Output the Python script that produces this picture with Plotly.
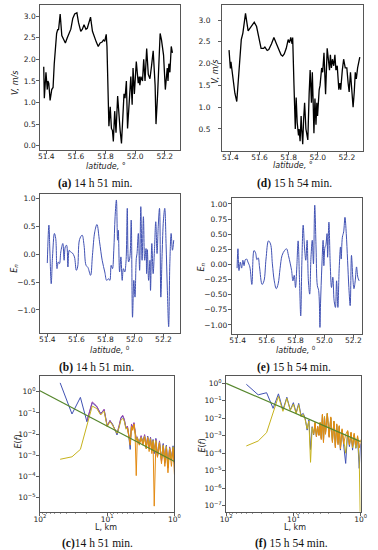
import plotly.graph_objects as go

# ---------------- data ----------------
lat_a = [51.383, 51.387, 51.398, 51.407, 51.411, 51.417, 51.426, 51.437, 51.446, 51.454,
         51.470, 51.478, 51.483, 51.494, 51.505, 51.520, 51.529, 51.542, 51.555, 51.566,
         51.579, 51.592, 51.607, 51.618, 51.633, 51.644, 51.655, 51.668, 51.677, 51.690,
         51.699, 51.712, 51.725, 51.738, 51.751, 51.764, 51.777, 51.786, 51.795, 51.801,
         51.805, 51.810, 51.816, 51.823, 51.832, 51.840, 51.847, 51.853, 51.862, 51.871,
         51.882, 51.893, 51.899, 51.908, 51.914, 51.925, 51.932, 51.941, 51.949, 51.958,
         51.967, 51.971, 51.980, 51.986, 51.995, 52.008, 52.021, 52.028, 52.032, 52.039,
         52.050, 52.058, 52.067, 52.078, 52.089, 52.100, 52.111, 52.122, 52.135, 52.141,
         52.152, 52.169, 52.178, 52.192, 52.204, 52.217, 52.222, 52.228, 52.235, 52.244,
         52.252]
v_a = [1.83, 1.10, 1.70, 1.30, 1.50, 1.45, 1.05, 1.30, 1.35, 1.90,
       2.60, 2.70, 2.68, 3.05, 2.55, 2.45, 2.38, 2.50, 2.60, 2.70,
       2.95, 3.05, 3.08, 2.85, 2.65, 2.70, 2.80, 2.70, 2.72, 2.90,
       2.98, 2.65, 2.50, 2.40, 2.30, 2.38, 2.40, 2.45, 2.42, 2.50,
       2.58, 2.30, 1.40, 0.45, 0.90, 0.40, 0.35, 0.10, 0.80, 0.30,
       1.15, 0.50, 0.35, 0.05, 0.50, 1.20, 1.10, 1.50, 0.40, 1.00,
       1.30, 1.60, 0.95, 1.80, 1.20, 1.95, 1.45, 1.60, 1.40, 1.60,
       1.50, 2.00, 1.50, 2.25, 1.65, 1.55, 1.85, 2.20, 1.40, 0.50,
       1.20, 2.60, 2.45, 2.10, 1.30, 1.80, 1.50, 1.90, 1.70, 2.30,
       2.15]

lat_d = [51.391, 51.400, 51.404, 51.411, 51.420, 51.431, 51.444, 51.460, 51.475, 51.486,
         51.504, 51.522, 51.542, 51.564, 51.580, 51.593, 51.611, 51.628, 51.637, 51.653,
         51.664, 51.682, 51.699, 51.717, 51.735, 51.748, 51.759, 51.770, 51.784, 51.797,
         51.806, 51.815, 51.824, 51.828, 51.837, 51.841, 51.846, 51.852, 51.859, 51.868,
         51.872, 51.879, 51.886, 51.890, 51.897, 51.903, 51.910, 51.919, 51.926, 51.932,
         51.941, 51.948, 51.957, 51.963, 51.968, 51.974, 51.981, 51.988, 51.994, 51.999,
         52.010, 52.016, 52.027, 52.034, 52.043, 52.054, 52.065, 52.072, 52.081, 52.087,
         52.094, 52.101, 52.110, 52.118, 52.125, 52.134, 52.145, 52.152, 52.158, 52.169,
         52.178, 52.189, 52.200, 52.209, 52.216, 52.225, 52.234, 52.243, 52.251, 52.258,
         52.265, 52.274, 52.289]
v_d = [2.31, 1.89, 2.04, 1.85, 1.51, 1.32, 1.13, 1.90, 2.55, 2.70,
       3.15, 2.75, 2.85, 2.95, 2.85, 2.65, 2.35, 2.35, 2.38, 2.30,
       2.32, 2.45, 2.60, 2.45, 2.30, 2.20, 2.17, 2.22, 2.35, 2.55,
       2.48, 2.60, 2.45, 2.60, 1.50, 0.70, 0.50, 1.22, 0.65, 0.35,
       0.50, 0.22, 0.80, 0.50, 0.15, 0.70, 1.10, 0.50, 0.30, 0.25,
       1.30, 1.85, 1.10, 1.80, 1.20, 0.40, 1.20, 0.60, 1.10, 0.80,
       1.40, 1.50, 1.90, 1.80, 2.25, 1.30, 2.35, 2.10, 1.85, 2.20,
       1.90, 2.10, 1.95, 2.20, 1.85, 1.95, 1.40, 1.55, 1.40, 1.85,
       2.10, 1.90, 1.90, 1.55, 1.35, 1.80, 1.30, 1.00, 1.35, 1.80,
       1.65, 1.90, 2.15]

lat_b = [51.400, 51.411, 51.418, 51.427, 51.436, 51.449, 51.458, 51.467, 51.476, 51.484,
         51.493, 51.507, 51.516, 51.524, 51.533, 51.542, 51.551, 51.560, 51.573, 51.587,
         51.600, 51.609, 51.622, 51.640, 51.653, 51.667, 51.680, 51.698, 51.711, 51.727,
         51.742, 51.760, 51.778, 51.796, 51.809, 51.822, 51.831, 51.840, 51.849, 51.858,
         51.867, 51.876, 51.884, 51.889, 51.898, 51.907, 51.916, 51.924, 51.933, 51.942,
         51.951, 51.960, 51.969, 51.978, 51.987, 51.996, 52.004, 52.013, 52.018, 52.027,
         52.036, 52.044, 52.053, 52.062, 52.071, 52.080, 52.084, 52.089, 52.098, 52.107,
         52.111, 52.120, 52.129, 52.138, 52.147, 52.156, 52.164, 52.173, 52.182, 52.191,
         52.200, 52.209, 52.218, 52.227, 52.236, 52.244, 52.253, 52.262, 52.271]
en_b = [-0.16, 0.52, 0.04, -0.53, -0.05, 0.37, 0.28, -0.26, -0.14, -0.17,
        0.04, 0.19, -0.11, 0.13, 0.16, -0.23, 0.07, 0.04, 0.02, -0.05,
        -0.29, -0.23, 0.26, 0.34, 0.16, -0.20, -0.24, -0.38, -0.02, 0.40,
        0.53, 0.22, -0.11, -0.32, -0.47, -0.44, -0.47, -0.20, -0.26, 0.07,
        0.67, 0.97, 0.25, 0.43, -0.32, -0.05, -0.47, -0.26, -0.32, -0.14,
        0.82, -0.14, -0.05, 0.61, -1.13, -0.47, -0.77, -0.08, 0.01, 0.37,
        -0.29, 0.85, -0.11, 0.67, -0.11, 0.10, -0.35, 0.08, -0.47, -0.11,
        -0.65, 0.19, -0.35, 0.07, 0.58, 0.01, 0.49, 0.82, -0.77, 0.01,
        0.61, 0.82, 0.19, -0.65, -1.30, -0.17, 0.37, 0.07, 0.25]

lat_e = [51.396, 51.402, 51.409, 51.418, 51.427, 51.436, 51.444, 51.453, 51.462, 51.471,
         51.484, 51.498, 51.513, 51.524, 51.533, 51.542, 51.551, 51.569, 51.582, 51.596,
         51.613, 51.627, 51.640, 51.653, 51.667, 51.680, 51.693, 51.707, 51.724, 51.738,
         51.751, 51.764, 51.773, 51.782, 51.791, 51.800, 51.809, 51.818, 51.827, 51.836,
         51.844, 51.853, 51.862, 51.871, 51.880, 51.889, 51.898, 51.907, 51.916, 51.924,
         51.933, 51.942, 51.951, 51.960, 51.969, 51.973, 51.982, 51.991, 51.996, 52.004,
         52.009, 52.018, 52.022, 52.031, 52.040, 52.049, 52.058, 52.067, 52.076, 52.084,
         52.093, 52.102, 52.111, 52.116, 52.124, 52.133, 52.142, 52.151, 52.160, 52.169,
         52.178, 52.187, 52.196, 52.204, 52.213, 52.222, 52.231, 52.240]
en_e = [-0.06, 0.26, -0.10, 0.04, -0.06, 0.07, -0.02, 0.08, 0.09, 0.04,
        -0.04, -0.33, 0.23, 0.19, 0.08, 0.11, -0.04, -0.33, -0.27, 0.09,
        0.39, 0.34, 0.01, -0.27, -0.40, -0.32, -0.07, 0.15, 0.23, 0.26,
        0.15, 0.01, -0.10, -0.27, -0.18, -0.38, -0.04, 0.39, -0.21, -0.85,
        0.04, 0.65, 0.29, 0.07, 0.40, -0.27, -0.49, 0.12, 0.40, 0.01,
        0.98, 0.29, -0.35, -0.43, -1.04, -0.65, -0.04, 0.40, -0.02, 0.29,
        0.31, 0.51, 0.12, 0.70, 0.01, -0.38, -0.21, -0.60, -0.71, -0.27,
        -0.71, -0.07, 0.29, 0.09, 0.45, 0.54, 0.78, 0.51, 0.07, -0.38,
        -0.68, 0.15, -0.21, -0.40, -0.27, -0.04, -0.21, -0.27]

# spectra: scale L (km)
L = [50, 33.33, 25, 20, 16.67, 14.29, 12.5, 11.11, 10, 9.09,
     8.33, 7.69, 7.14, 6.67, 6.25, 5.88, 5.56, 5.26, 5.0, 4.76,
     4.55, 4.35, 4.17, 4.0, 3.85, 3.70, 3.57, 3.45, 3.33, 3.13,
     2.94, 2.78, 2.63, 2.5, 2.38, 2.27, 2.17, 2.08, 2.0, 1.89,
     1.79, 1.67, 1.56, 1.47, 1.39, 1.32, 1.25, 1.18, 1.11, 1.05, 1.0]

blue_c = [2.6, 0.089, 0.54, 0.038, 0.30, 0.195, 0.095, 0.14, 0.025, 0.042,
          0.030, 0.017, 0.0091, 0.022, 0.055, 0.071, 0.046, 0.019, 0.022, 0.0071,
          0.0019, 0.027, 0.019, 0.032, 0.013, 0.0052, 0.0063, 0.0052, 0.0036, 0.0076,
          0.0044, 0.0091, 0.0021, 0.0081, 0.0026, 0.0071, 0.0018, 0.0056, 0.0012, 0.0063,
          0.00085, 0.0044, 0.0006, 0.0036, 0.00042, 0.003, 0.00029, 0.0023, 0.0006, 0.0028,
          0.00042]
purple_c = [None, None, None, 0.045, 0.33, 0.21, 0.085, 0.15, 0.024, 0.045,
            0.028, 0.019, 0.011, 0.025, 0.06, 0.078, 0.05, 0.02, 0.024, 0.009,
            0.004, 0.03, 0.02, 0.035, 0.011, 0.006, 0.0075, 0.004, 0.0045, 0.0085,
            0.0035, 0.0095, 0.0025, 0.0075, 0.0022, 0.0068, 0.0016, 0.0052, 0.0014, 0.0058,
            0.0009, 0.0048, 0.0005, 0.0032, 0.0005, 0.0027, 0.00025, 0.0025, 0.0008, 0.0024,
            0.0005]
yellow_c = [6.5e-4, 8.5e-4, 1.9e-3, 0.025, 0.21, 0.16, 0.08, 0.12, 0.022, 0.038,
            0.027, 0.016, 0.011, 0.02, 0.045, 0.055, 0.04, 0.017, 0.02, 0.008,
            0.004, 0.022, 0.017, 0.028, 0.012, 0.005, 0.007, 0.0045, 0.004, 0.007,
            0.004, 0.008, 0.0022, 0.007, 0.003, 0.006, 0.002, 0.005, 0.0015, 0.005,
            0.001, 0.004, 0.0007, 0.003, 0.0005, 0.0026, 0.0003, 0.0021, 0.0007, 0.0025,
            0.0004]
orange_c = [None] * 18 + [0.02, 0.008, 0.003, 0.024, 0.015, 0.03, 0.01, 0.00011, 0.006, 0.004,
                          0.003, 0.006, 0.003, 0.007, 0.002, 0.0065, 0.0015, 0.005, 0.0012, 0.004,
                          4e-6, 0.004, 0.0008, 0.0035, 0.0004, 0.0025, 0.0003, 0.002, 0.00015, 0.0018,
                          0.0003, 0.002, 0.00012]

blue_f = [0.88, 0.22, 0.29, 0.037, 0.25, 0.03, 0.16, 0.03, 0.078, 0.021,
          0.071, 0.015, 0.019, 0.01, 0.0021, 0.008, 0.00016, 0.0033, 0.0011, 0.0051,
          0.00089, 0.0033, 0.0011, 0.0051, 0.0007, 0.015, 0.00046, 0.012, 0.0014, 0.019,
          0.00089, 0.01, 0.00046, 0.0064, 0.00024, 0.0041, 0.00036, 0.0033, 0.00015, 0.0021,
          0.0003, 2.6e-5, 0.0017, 0.00024, 0.0014, 0.00015, 0.0011, 0.00019, 0.0007, 1.35e-5,
          0.00036]
yellow_f = [2.6e-4, 5e-4, 1.5e-3, 0.02, 0.18, 0.025, 0.14, 0.028, 0.065, 0.018,
            0.06, 0.012, 0.017, 0.008, 0.0025, 0.007, 3e-5, 0.003, 0.0012, 0.0055,
            0.001, 0.003, 0.0012, 0.006, 0.0008, 0.016, 0.0005, 0.013, 0.0015, 0.02,
            0.001, 0.011, 0.0005, 0.007, 0.0003, 0.0045, 0.0004, 0.0035, 0.0002, 0.0022,
            0.0004, 0.0001, 0.0018, 0.0003, 0.0015, 0.0002, 0.0012, 0.0002, 0.0008, 4e-5,
            1e-9]
orange_f = [None] * 18 + [0.0013, 0.006, 0.0009, 0.0035, 0.001, 0.0055, 0.0006, 0.017, 0.0004, 0.011,
                          0.0012, 0.018, 0.0008, 0.012, 0.0004, 0.0068, 0.0002, 0.0048, 0.0003, 0.0038,
                          0.00018, 0.0025, 0.00035, 0.0012, 0.002, 0.0003, 0.0016, 0.00025, 0.0014, 0.0003,
                          0.001, 0.0002, 0.0006]

fit_L = [100, 1]
fit_c = [1.1, 5.1e-4]
fit_f = [1.0, 4.6e-4]

# ---------------- figure ----------------
W, H = 378, 550
def px(x): return x / W
def py(y): return 1 - y / H

BLUE = "#4152b3"
YEL = "#c6b21c"
PUR = "#9a45b0"
ORA = "#e38a12"
GRN = "#55862c"

fig = go.Figure()

def line(x, y, ax, color, width=1.0, shape="linear"):
    fig.add_trace(go.Scatter(x=x, y=y, mode="lines", xaxis="x" + ax, yaxis="y" + ax,
                             line=dict(color=color, width=width, shape=shape),
                             connectgaps=False, showlegend=False, hoverinfo="skip"))

line(lat_a, v_a, "", "black", 1.3)
line(lat_d, v_d, "2", "black", 1.3)
line(lat_b, en_b, "3", BLUE, 1.0, "spline")
line(lat_e, en_e, "4", BLUE, 1.0, "spline")
line(L, blue_c, "5", BLUE)
line(L, purple_c, "5", PUR)
line(L, yellow_c, "5", YEL)
line(L, orange_c, "5", ORA)
line(fit_L, fit_c, "5", GRN, 1.2)
line(L, blue_f, "6", BLUE)
line(L, yellow_f, "6", YEL)
line(L, orange_f, "6", ORA)
line(fit_L, fit_f, "6", GRN, 1.2)

tickfont = dict(family="DejaVu Sans", size=7.5, color="#222")
common = dict(showline=True, mirror=True, linecolor="#444", linewidth=0.9,
              ticks="outside", ticklen=3, tickwidth=0.8, tickcolor="#333",
              showgrid=False, zeroline=False, tickfont=tickfont)
xcommon = dict(common, ticklabelstandoff=-4)
xlogcommon = dict(common, ticklabelstandoff=-3)
ycommon = dict(common, ticklabelstandoff=-1)

lat_ticks = [51.4, 51.6, 51.8, 52.0, 52.2]
dec_sup = lambda n: "10<sup>" + ("\u2212" + str(-n) if n < 0 else str(n)) + "</sup>"

layout = dict(
    width=W, height=H, margin=dict(l=0, r=0, t=0, b=0),
    paper_bgcolor="white", plot_bgcolor="white", showlegend=False,
    # a
    xaxis=dict(domain=[px(35.3), px(180)], anchor="y", range=[51.359, 52.305],
               tickvals=lat_ticks, tickformat=".1f", **xcommon),
    yaxis=dict(domain=[py(150), py(5)], anchor="x", range=[-0.10, 3.26],
               tickvals=[0, 0.5, 1, 1.5, 2, 2.5, 3], tickformat=".1f", **ycommon),
    # d
    xaxis2=dict(domain=[px(223), px(369)], anchor="y2", range=[51.342, 52.313],
                tickvals=lat_ticks, tickformat=".1f", **xcommon),
    yaxis2=dict(domain=[py(150.7), py(5)], anchor="x2", range=[0.002, 3.344],
                tickvals=[0.5, 1, 1.5, 2, 2.5, 3], tickformat=".1f",
                **dict(common, ticklabelstandoff=6)),
    # b
    xaxis3=dict(domain=[px(35), px(180)], anchor="y3", range=[51.349, 52.316],
                tickvals=lat_ticks, tickformat=".1f", **xcommon),
    yaxis3=dict(domain=[py(333.3), py(194)], anchor="x3", range=[-1.418, 1.077],
                tickvals=[-1, -0.5, 0, 0.5, 1], tickformat=".1f", **ycommon),
    # e
    xaxis4=dict(domain=[px(233), px(368)], anchor="y4", range=[51.358, 52.262],
                tickvals=lat_ticks, tickformat=".1f", **xcommon),
    yaxis4=dict(domain=[py(334), py(198.3)], anchor="x4", range=[-1.149, 1.094],
                tickvals=[-1, -0.75, -0.5, -0.25, 0, 0.25, 0.5, 0.75, 1], tickformat=".2f", **ycommon),
    # c
    xaxis5=dict(domain=[px(35), px(174)], anchor="y5", type="log", range=[2, 0],
                tickvals=[100, 10, 1], ticktext=[dec_sup(2), dec_sup(1), dec_sup(0)], **xlogcommon),
    yaxis5=dict(domain=[py(511.7), py(376)], anchor="x5", type="log", range=[-5.66, 0.74],
                tickvals=[10.0 ** n for n in range(-5, 1)],
                ticktext=[dec_sup(n) for n in range(-5, 1)], **ycommon),
    # f
    xaxis6=dict(domain=[px(227.3), px(366.3)], anchor="y6", type="log", range=[2, 0],
                tickvals=[100, 10, 1], ticktext=[dec_sup(2), dec_sup(1), dec_sup(0)], **xlogcommon),
    yaxis6=dict(domain=[py(511.7), py(376)], anchor="x6", type="log", range=[-7.35, 0.42],
                tickvals=[10.0 ** n for n in range(-7, 1)],
                ticktext=[dec_sup(n) for n in range(-7, 1)], **ycommon),
)
fig.update_layout(**layout)

minor_x = [v * m for m in (1, 10) for v in range(2, 10)]
for ax in ("xaxis5", "xaxis6"):
    fig.layout[ax].minor = dict(tickvals=minor_x, ticks="outside", ticklen=1.8,
                                tickwidth=0.6, tickcolor="#555")

ann = []
lab_font = dict(family="DejaVu Sans", size=8, color="#222")
cap_font = dict(family="Liberation Serif", size=11.5, color="#111")

def txt(x, y, s, font, angle=0):
    ann.append(dict(x=px(x), y=py(y), xref="paper", yref="paper", text=s, showarrow=False,
                    xanchor="center", yanchor="middle", textangle=angle, font=font))

txt(10.3, 83, "<i>V, m/s</i>", lab_font, -90)
txt(216.7, 72, "<i>V, m/s</i>", lab_font, -90)
txt(9, 268, "<i>E<sub>n</sub></i>", lab_font, -90)
txt(202, 267, "<i>E<sub>n</sub></i>", lab_font, -90)
txt(12, 442, "<i>E</i>(<i>f</i>)", lab_font, -90)
txt(202, 446, "<i>E</i>(<i>f</i>)", lab_font, -90)

txt(103, 166.5, "<i>latitude,</i> °", lab_font)
txt(296, 166, "<i>latitude,</i> °", lab_font)
txt(107, 349.5, "<i>latitude,</i> <sup>0</sup>", lab_font)
txt(300, 349.5, "<i>latitude,</i> <sup>0</sup>", lab_font)
txt(103, 527, "L, km", lab_font)
txt(298, 527, "L, km", lab_font)

txt(92, 183, "<b>(a)</b> 14 h 51 min.", cap_font)
txt(298, 183, "<b>(d)</b> 15 h 54 min.", cap_font)
txt(93, 367, "<b>(b)</b> 14 h 51 min.", cap_font)
txt(297, 367, "<b>(e)</b> 15 h 54 min.", cap_font)
txt(95, 543, "<b>(c)</b>14 h 51 min.", cap_font)
txt(295, 543, "<b>(f)</b> 15 h 54 min.", cap_font)

fig.update_layout(annotations=ann)
fig.write_html("out.html", config={"displayModeBar": False, "staticPlot": True},
               post_script="document.body.style.margin='0px';document.body.style.overflow='hidden';")
